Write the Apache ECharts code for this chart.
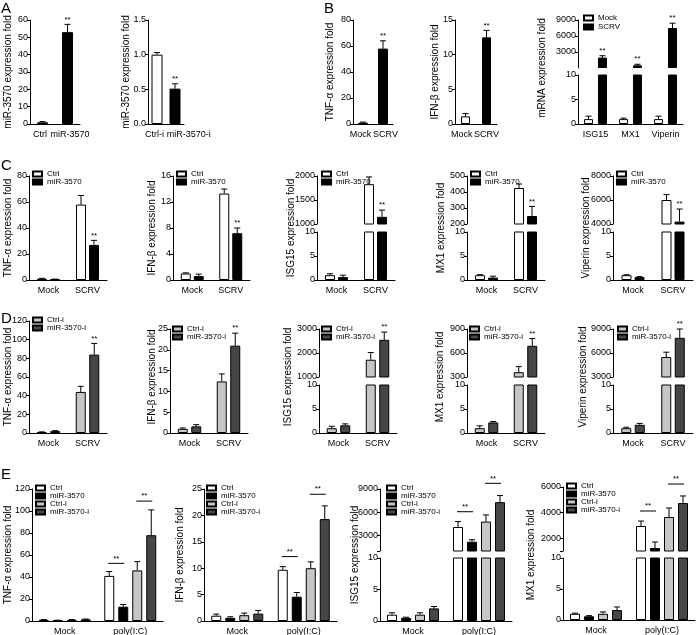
<!DOCTYPE html>
<html><head><meta charset="utf-8">
<script src="https://cdn.jsdelivr.net/npm/echarts@6/dist/echarts.min.js"></script>
<style>html,body{margin:0;padding:0;background:#fff}#c{width:696px;height:635px}</style>
</head><body><div id="c"></div><script>
// ---------------- DATA ----------------
// Panel A
const A1_cats = ['Ctrl', 'miR-3570'];
const A1_vals = [1.0, 53];
const A1_err  = [0.4, 4.5];
const A2_cats = ['Ctrl-i', 'miR-3570-i'];
const A2_vals = [1.0, 0.51];
const A2_err  = [0.03, 0.07];
// Panel B
const B_cats = ['Mock', 'SCRV'];
const B1_vals = [1.0, 58];   const B1_err = [0.5, 6];
const B2_vals = [1.1, 12.5]; const B2_err = [0.4, 1.0];
const B3_cats = ['ISG15', 'MX1', 'Viperin'];
const B3_mock = [1.0, 1.0, 1.0];     const B3_mockErr = [0.6, 0.2, 0.6];
const B3_scrv = [1950, 500, 7500];   const B3_scrvErr = [350, 200, 900];
// Panel C (Ctrl vs miR-3570; Mock, SCRV)
const C_cats = ['Mock', 'SCRV'];
const C1_ctrl = [1.0, 58];    const C1_ctrlErr = [0.3, 7];
const C1_mir  = [0.5, 27];    const C1_mirErr  = [0.2, 3.5];
const C2_ctrl = [1.0, 13.3];  const C2_ctrlErr = [0.1, 0.7];
const C2_mir  = [0.6, 7.2];   const C2_mirErr  = [0.3, 0.8];
const C3_ctrl = [1.0, 1830];  const C3_ctrlErr = [0.3, 150];
const C3_mir  = [0.6, 1150];  const C3_mirErr  = [0.4, 140];
const C4_ctrl = [1.0, 425];   const C4_ctrlErr = [0.1, 25];
const C4_mir  = [0.5, 250];   const C4_mirErr  = [0.3, 60];
const C5_ctrl = [1.0, 6000];  const C5_ctrlErr = [0.1, 450];
const C5_mir  = [0.6, 4200];  const C5_mirErr  = [0.1, 1050];
// Panel D (Ctrl-i vs miR-3570-i)
const D1_ctrl = [1.0, 44];    const D1_ctrlErr = [0.2, 6];
const D1_mir  = [2.0, 84];    const D1_mirErr  = [0.5, 12];
const D2_ctrl = [1.0, 12.4];  const D2_ctrlErr = [0.2, 1.8];
const D2_mir  = [1.6, 21];    const D2_mirErr  = [0.4, 3];
const D3_ctrl = [1.0, 1720];  const D3_ctrlErr = [0.4, 300];
const D3_mir  = [1.6, 2550];  const D3_mirErr  = [0.3, 320];
const D4_ctrl = [1.0, 360];   const D4_ctrlErr = [0.5, 70];
const D4_mir  = [2.2, 690];   const D4_mirErr  = [0.2, 90];
const D5_ctrl = [1.0, 5500];  const D5_ctrlErr = [0.2, 600];
const D5_mir  = [1.7, 7900];  const D5_mirErr  = [0.3, 1100];
// Panel E (Ctrl, miR-3570, Ctrl-i, miR-3570-i; Mock, poly(I:C))
const E_cats = ['Mock', 'poly(I:C)'];
const E1_ctrl = [1.0, 41];   const E1_ctrlErr = [0.3, 4];
const E1_mir  = [0.5, 13];   const E1_mirErr  = [0.2, 2];
const E1_ctrli = [1.0, 46];  const E1_ctrliErr = [0.3, 8];
const E1_miri = [1.5, 78];   const E1_miriErr = [0.3, 23];
const E2_ctrl = [1.0, 9.7];  const E2_ctrlErr = [0.3, 0.6];
const E2_mir  = [0.6, 4.6];  const E2_mirErr  = [0.2, 0.8];
const E2_ctrli = [1.1, 10.0]; const E2_ctrliErr = [0.4, 1.2];
const E2_miri = [1.4, 19.3]; const E2_miriErr = [0.6, 2.5];
const E3_ctrl = [1.0, 4100]; const E3_ctrlErr = [0.3, 700];
const E3_mir  = [0.5, 2200]; const E3_mirErr  = [0.1, 250];
const E3_ctrli = [1.0, 4800]; const E3_ctrliErr = [0.3, 850];
const E3_miri = [2.0, 7300]; const E3_miriErr = [0.3, 850];
const E4_ctrl = [1.0, 2950]; const E4_ctrlErr = [0.1, 390];
const E4_mir  = [0.6, 1230]; const E4_mirErr  = [0.1, 470];
const E4_ctrli = [1.0, 3660]; const E4_ctrliErr = [0.3, 700];
const E4_miri = [1.6, 4750]; const E4_miriErr = [0.5, 550];
// significance brackets: [category, level, fromSeries, toSeries]
const E1_sig = [[1, 52.4, 0, 1], [1, 109, 2, 3]];
const E2_sig = [[1, 12.2, 0, 1], [1, 24.0, 2, 3]];
const E3_sig = [[1, 6070, 0, 1], [1, 9735, 2, 3]];
const E4_sig = [[1, 4125, 0, 1], [1, 6230, 2, 3]];

// ---------------- STYLE / BUILD ----------------
const FONT = '"Liberation Sans", Arial, Helvetica, sans-serif';
const FILL = {'Ctrl':'#ffffff','miR-3570':'#000000','Ctrl-i':'#c6c6c6','miR-3570-i':'#464646','Mock':'#ffffff','SCRV':'#000000'};

const option = {animation:false, backgroundColor:'#ffffff', grid:[], xAxis:[], yAxis:[], series:[], legend:[], graphic:[]};

function yAxisCfg(gi, s) {
  const ax = {type:'value', gridIndex:gi, min:s.min, max:s.max, splitLine:{show:false},
    axisLine:{show:true, lineStyle:{color:'#000', width:1}},
    axisTick:{show:true, inside:false, length:3, lineStyle:{color:'#000', width:1}},
    axisLabel:{color:'#000', fontSize:9, fontFamily:FONT, margin:2, showMinLabel: !s.hideMin,
      formatter: s.fmt || (v => String(v))}};
  if (s.interval) ax.interval = s.interval;
  if (s.ticks) { ax.axisTick.customValues = s.tickMarks || s.ticks; ax.axisLabel.customValues = s.ticks; }
  return ax;
}

// shift x labels sideways (px) by padding them with non-breaking spaces
function xLabelCfg(shift) {
  const cfg = {color:'#000', fontSize:9, fontFamily:FONT, margin:6, interval:0};
  if (shift) {
    cfg.formatter = (v, i) => {
      const sh = shift[i] || 0;
      const pad = '\u00a0'.repeat(Math.round(Math.abs(sh) * 2 / 2.5));
      return sh >= 0 ? pad + v : v + pad;
    };
  }
  return cfg;
}

function errSeries(ai, pts, offset) {
  return {type:'custom', xAxisIndex:ai, yAxisIndex:ai, clip:false, silent:true, z:5, data:pts,
    renderItem(params, api) {
      const ci = api.value(0), v = api.value(1), e = api.value(2), s = api.value(3);
      const p0 = api.coord([ci, v]), p1 = api.coord([ci, v + e]);
      const x = p0[0] + offset;
      const ch = [
        {type:'line', shape:{x1:x, y1:p0[1], x2:x, y2:p1[1]}, style:{stroke:'#000', lineWidth:1}},
        {type:'line', shape:{x1:x-3, y1:p1[1], x2:x+3, y2:p1[1]}, style:{stroke:'#000', lineWidth:1}}
      ];
      if (s) ch.push({type:'text', x:x, y:p1[1]-1, style:{text:'**', fill:'#000', fontSize:8, fontFamily:FONT, align:'center', verticalAlign:'bottom', textAlign:'center', textVerticalAlign:'bottom'}});
      return {type:'group', children:ch};
    }};
}

function sigSeries(ai, items, off) {
  return {type:'custom', xAxisIndex:ai, yAxisIndex:ai, clip:false, silent:true, z:6, data:items,
    renderItem(params, api) {
      const ci = api.value(0), lv = api.value(1), a = api.value(2), b = api.value(3);
      const p = api.coord([ci, lv]);
      const x1 = p[0] + off(a) - 1, x2 = p[0] + off(b) + 1;
      return {type:'group', children:[
        {type:'line', shape:{x1:x1, y1:p[1], x2:x2, y2:p[1]}, style:{stroke:'#000', lineWidth:1}},
        {type:'text', x:(x1+x2)/2, y:p[1]-1, style:{text:'**', fill:'#000', fontSize:8, fontFamily:FONT, align:'center', verticalAlign:'bottom', textAlign:'center', textVerticalAlign:'bottom'}}
      ]};
    }};
}

function panel(p) {
  const n = p.series.length, w = p.barWidth, g = p.barGap || 0;
  const off = i => (i - (n - 1) / 2) * w * (1 + g);
  const segs = p.upper ? [['lower', p.lower], ['upper', p.upper]] : [['lower', p.lower]];
  segs.forEach(([k, s]) => {
    option.grid.push({left:p.left, top:s.top, width:p.width, height:s.height, containLabel:false, outerBoundsMode:'none'});
    const gi = option.grid.length - 1;
    option.xAxis.push({type:'category', gridIndex:gi, data:p.cats, show:k === 'lower',
      axisLine:{lineStyle:{color:'#000', width:1}}, axisTick:{show:false},
      axisLabel:xLabelCfg(p.labelShift)});
    option.yAxis.push(yAxisCfg(gi, s));
    const ai = option.xAxis.length - 1;
    p.series.forEach((sr, i) => {
      const data = sr.vals.map((v, ci) => {
        if (k === 'upper' && v <= p.lower.max) return '-';
        const it = {value:v};
        if (sr.colors) it.itemStyle = {color:sr.colors[ci]};
        return it;
      });
      option.series.push({type:'bar', name:sr.name, xAxisIndex:ai, yAxisIndex:ai, data:data,
        barWidth:w, barGap:(g * 100) + '%', clip:true, silent:true,
        itemStyle:{color:sr.name ? FILL[sr.name] : '#fff', borderColor:'#000', borderWidth:1}});
      const pts = [];
      sr.vals.forEach((v, ci) => {
        const inSeg = p.upper ? (k === 'upper' ? v > p.lower.max : v <= p.lower.max) : true;
        if (inSeg) pts.push([ci, v, sr.errs[ci], (sr.stars || []).includes(ci) ? 1 : 0]);
      });
      option.series.push(errSeries(ai, pts, off(i)));
    });
    if (p.sig && k === (p.sigSeg || 'lower')) option.series.push(sigSeries(ai, p.sig, off));
  });
  if (p.legend) {
    option.legend.push({left:p.legend[0], top:p.legend[1], orient:'vertical', padding:0,
      itemWidth:9, itemHeight:5, itemGap:p.legend[2] || 0, selectedMode:false, icon:'rect',
      data:p.series.map(s => s.name),
      textStyle:{fontSize:8, lineHeight:8, fontFamily:FONT, color:'#000'}});
  }
  option.graphic.push({type:'text', x:p.title[1], y:p.title[2], rotation:Math.PI/2,
    style:{text:p.title[0], fill:'#000', font:'10px ' + FONT, textAlign:'center', textVerticalAlign:'middle', align:'center', verticalAlign:'middle'}});
}

const S = (name, vals, errs, stars) => ({name, vals, errs, stars});
const lo10 = (top, h) => ({top:top, height:h, min:0, max:10, interval:5});

// ---- Row A / B ----
panel({left:30, width:50, cats:A1_cats, barWidth:11, labelShift:[-3, 2],
  series:[{vals:A1_vals, errs:A1_err, stars:[1], colors:['#ffffff', '#000000']}],
  lower:{top:20, height:104, min:0, max:60, interval:10},
  title:['miR-3570 expression fold', 8, 72]});
panel({left:148, width:36, cats:A2_cats, barWidth:11, labelShift:[-2, 14],
  series:[{vals:A2_vals, errs:A2_err, stars:[1], colors:['#ffffff', '#000000']}],
  lower:{top:20, height:104, min:0, max:1.5, interval:0.5, fmt:v => v.toFixed(1)},
  title:['miR-3570 expression fold', 126, 72]});
panel({left:353, width:40, cats:B_cats, barWidth:10, labelShift:[-3, 3],
  series:[{vals:B1_vals, errs:B1_err, stars:[1], colors:['#ffffff', '#000000']}],
  lower:{top:20, height:104, min:0, max:80, interval:20},
  title:['TNF-α expression fold', 330, 72]});
panel({left:455, width:42, cats:B_cats, barWidth:9, labelShift:[-4, 0],
  series:[{vals:B2_vals, errs:B2_err, stars:[1], colors:['#ffffff', '#000000']}],
  lower:{top:20, height:104, min:0, max:15, interval:5},
  title:['IFN-β expression fold', 435, 72]});
panel({left:578, width:105, cats:B3_cats, barWidth:9, barGap:0.55,
  series:[S('Mock', B3_mock, B3_mockErr), S('SCRV', B3_scrv, B3_scrvErr, [0,1,2])],
  lower:lo10(75, 49), upper:{top:20, height:48, min:0, max:9000, interval:3000, hideMin:true},
  legend:[583, 14, 1], title:['mRNA expression fold', 542, 68]});

// ---- Row C ----
const cSer = (c, ce, m, me) => [S('Ctrl', c, ce), S('miR-3570', m, me, [1])];
panel({left:29, width:78, cats:C_cats, barWidth:10, barGap:0.3, series:cSer(C1_ctrl, C1_ctrlErr, C1_mir, C1_mirErr),
  lower:{top:176, height:104, min:0, max:80, interval:20}, legend:[32, 170], title:['TNF-α expression fold', 8, 228]});
panel({left:173, width:77, cats:C_cats, barWidth:10, barGap:0.3, series:cSer(C2_ctrl, C2_ctrlErr, C2_mir, C2_mirErr),
  lower:{top:176, height:104, min:0, max:16, interval:4}, legend:[176, 170], title:['IFN-β expression fold', 152, 228]});
panel({left:317, width:78, cats:C_cats, barWidth:10, barGap:0.3, series:cSer(C3_ctrl, C3_ctrlErr, C3_mir, C3_mirErr),
  lower:lo10(232, 48), upper:{top:176, height:48, min:1000, max:2000, interval:500}, legend:[321, 170], title:['ISG15 expression fold', 291, 228]});
panel({left:467, width:78, cats:C_cats, barWidth:10, barGap:0.3, series:cSer(C4_ctrl, C4_ctrlErr, C4_mir, C4_mirErr),
  lower:lo10(232, 48), upper:{top:176, height:48, min:200, max:500, interval:100}, legend:[470, 170], title:['MX1 expression fold', 441, 228]});
panel({left:613, width:80, cats:C_cats, barWidth:10, barGap:0.3, series:cSer(C5_ctrl, C5_ctrlErr, C5_mir, C5_mirErr),
  lower:lo10(232, 48), upper:{top:176, height:48, min:4000, max:8000, interval:2000}, legend:[616, 170], title:['Viperin expression fold', 586, 228]});

// ---- Row D ----
const dSer = (c, ce, m, me) => [S('Ctrl-i', c, ce), S('miR-3570-i', m, me, [1])];
panel({left:29, width:78, cats:C_cats, barWidth:10, barGap:0.35, series:dSer(D1_ctrl, D1_ctrlErr, D1_mir, D1_mirErr),
  lower:{top:321, height:112, min:0, max:120, interval:20}, legend:[32, 316], title:['TNF-α expression fold', 8, 377]});
panel({left:170, width:78, cats:C_cats, barWidth:10, barGap:0.35, series:dSer(D2_ctrl, D2_ctrlErr, D2_mir, D2_mirErr),
  lower:{top:329, height:104, min:0, max:25, interval:5}, legend:[172, 325], title:['IFN-β expression fold', 152, 377]});
panel({left:319, width:78, cats:C_cats, barWidth:10, barGap:0.35, series:dSer(D3_ctrl, D3_ctrlErr, D3_mir, D3_mirErr),
  lower:lo10(385, 48), upper:{top:329, height:48, min:1000, max:3000, interval:1000}, legend:[321, 325], title:['ISG15 expression fold', 288, 377]});
panel({left:467, width:78, cats:C_cats, barWidth:10, barGap:0.35, series:dSer(D4_ctrl, D4_ctrlErr, D4_mir, D4_mirErr),
  lower:lo10(385, 48), upper:{top:329, height:48, min:300, max:900, interval:300}, legend:[469, 325], title:['MX1 expression fold', 440, 377]});
panel({left:613, width:80, cats:C_cats, barWidth:10, barGap:0.35, series:dSer(D5_ctrl, D5_ctrlErr, D5_mir, D5_mirErr),
  lower:lo10(385, 48), upper:{top:329, height:48, min:3000, max:9000, interval:3000}, legend:[617, 325], title:['Viperin expression fold', 583, 377]});

// ---- Row E ----
const eSer = (a, ae, b, be, c, ce, d, de) => [S('Ctrl', a, ae), S('miR-3570', b, be), S('Ctrl-i', c, ce), S('miR-3570-i', d, de)];
panel({left:32, width:131, cats:E_cats, barWidth:10, barGap:0.4,
  series:eSer(E1_ctrl, E1_ctrlErr, E1_mir, E1_mirErr, E1_ctrli, E1_ctrliErr, E1_miri, E1_miriErr),
  lower:{top:489, height:132, min:0, max:120, interval:20}, sig:E1_sig, legend:[35, 484], title:['TNF-α expression fold', 8, 555]});
panel({left:204, width:133, cats:E_cats, barWidth:10, barGap:0.4,
  series:eSer(E2_ctrl, E2_ctrlErr, E2_mir, E2_mirErr, E2_ctrli, E2_ctrliErr, E2_miri, E2_miriErr),
  lower:{top:489, height:132, min:0, max:25, interval:5}, sig:E2_sig, legend:[206, 484], title:['IFN-β expression fold', 180, 555]});
panel({left:380, width:132, cats:E_cats, barWidth:10, barGap:0.4,
  series:eSer(E3_ctrl, E3_ctrlErr, E3_mir, E3_mirErr, E3_ctrli, E3_ctrliErr, E3_miri, E3_miriErr),
  lower:lo10(558, 63), upper:{top:489, height:62, min:1000, max:9000, ticks:[3000, 6000, 9000], tickMarks:[1000, 3000, 6000, 9000]},
  sig:E3_sig, sigSeg:'upper', legend:[386, 484], title:['ISG15 expression fold', 355, 555]});
panel({left:563, width:132, cats:E_cats, barWidth:10, barGap:0.4,
  series:eSer(E4_ctrl, E4_ctrlErr, E4_mir, E4_mirErr, E4_ctrli, E4_ctrliErr, E4_miri, E4_miriErr),
  lower:lo10(558, 62), upper:{top:487, height:64, min:1000, max:6000, ticks:[2000, 4000, 6000], tickMarks:[1000, 2000, 4000, 6000]},
  sig:E4_sig, sigSeg:'upper', legend:[566, 482], title:['MX1 expression fold', 531, 555]});

// panel letters
[['A', 1, 1], ['B', 324, 1], ['C', 1, 158], ['D', 1, 311], ['E', 1, 467]].forEach(([t, x, y]) => {
  option.graphic.push({type:'text', x:x, y:y, style:{text:t, fill:'#000', font:'15px ' + FONT, textVerticalAlign:'top', verticalAlign:'top'}});
});

const chart = echarts.init(document.getElementById('c'), null, {renderer:'canvas'});
chart.setOption(option);
</script></body></html>
